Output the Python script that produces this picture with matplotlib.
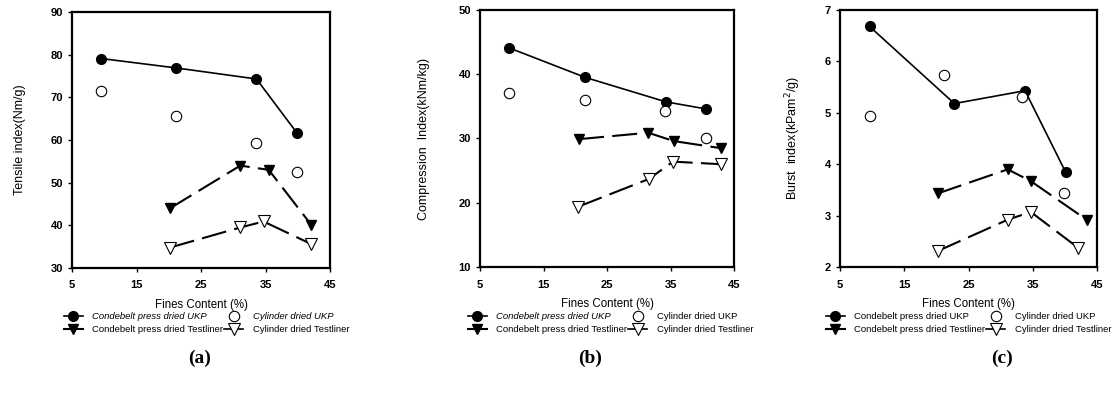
import matplotlib
matplotlib.use("Agg")
import matplotlib.pyplot as plt
from matplotlib.lines import Line2D

plt.rcParams['font.family'] = ['Liberation Sans', 'DejaVu Sans']

# fines content (%) per series and panel
x_cb_ukp = [[9.5, 21.1, 33.6, 39.9], [9.6, 21.6, 34.3, 40.6], [9.6, 22.8, 33.8, 40.1]]
x_cy_ukp = [[9.5, 21.1, 33.6, 39.9], [9.6, 21.6, 34.2, 40.6], [9.6, 21.2, 33.4, 39.9]]
x_cb_tl = [[20.2, 31.1, 35.5, 42.1], [20.6, 31.5, 35.5, 42.9], [20.2, 31.1, 34.7, 43.5]]
x_cy_tl = [[20.2, 31.1, 34.7, 42.1], [20.5, 31.6, 35.4, 42.9], [20.2, 31.1, 34.7, 42.1]]

# (a) tensile index
tensile_cb_ukp = [79.1, 76.9, 74.3, 61.6]
tensile_cy_ukp = [71.5, 65.7, 59.2, 52.6]
tensile_cb_tl = [44.0, 54.0, 53.0, 40.1]
tensile_cy_tl = [34.8, 39.5, 40.9, 35.6]

# (b) compression index
comp_cb_ukp = [44.1, 39.5, 35.7, 34.6]
comp_cy_ukp = [37.1, 36.0, 34.3, 30.1]
comp_cb_tl = [29.9, 30.9, 29.6, 28.5]
comp_cy_tl = [19.4, 23.7, 26.4, 26.0]

# (c) burst index
burst_cb_ukp = [6.68, 5.18, 5.43, 3.85]
burst_cy_ukp = [4.94, 5.74, 5.30, 3.43]
burst_cb_tl = [3.43, 3.90, 3.67, 2.91]
burst_cy_tl = [2.31, 2.92, 3.07, 2.37]

y_labels = ['Tensile index(Nm/g)', 'Compression  Index(kNm/kg)', 'Burst  index(kPam$^2$/g)']
y_ranges = [(30, 90, 10), (10, 50, 10), (2, 7, 1)]
panel_names = ['(a)', '(b)', '(c)']
# order so the 2-column legend reads row by row
legend_names = ['Condebelt press dried UKP', 'Condebelt press dried Testliner',
                'Cylinder dried UKP', 'Cylinder dried Testliner']

data = [
    (tensile_cb_ukp, tensile_cy_ukp, tensile_cb_tl, tensile_cy_tl),
    (comp_cb_ukp, comp_cy_ukp, comp_cb_tl, comp_cy_tl),
    (burst_cb_ukp, burst_cy_ukp, burst_cb_tl, burst_cy_tl),
]

W, H = 1116, 396
# axes boxes in pixels: left, top, right, bottom
boxes = [(72, 12, 330, 268), (480, 10, 734, 267), (840, 10, 1097, 267)]
ylabel_x = [-0.178, -0.197, -0.144]
legend_left = [64, 468, 826]
panel_x = [200, 590, 1002]

fig = plt.figure(figsize=(W / 100, H / 100), dpi=100)

for i in range(3):
    l, t, r, b = boxes[i]
    ax = fig.add_axes([l / W, 1 - b / H, (r - l) / W, (b - t) / H])
    cb_ukp, cy_ukp, cb_tl, cy_tl = data[i]

    ax.plot(x_cb_ukp[i], cb_ukp, color='black', lw=1.2, marker='o', ms=7)
    ax.plot(x_cy_ukp[i], cy_ukp, ls='none', marker='o', ms=7.5,
            mfc='white', mec='black', mew=0.8)
    ax.plot(x_cb_tl[i], cb_tl, color='black', lw=1.5, dashes=(12, 4),
            marker='v', ms=7.5)
    ax.plot(x_cy_tl[i], cy_tl, color='black', lw=1.5, dashes=(12, 4),
            marker='v', ms=8, mfc='white', mec='black', mew=0.8)

    y0, y1, step = y_ranges[i]
    ax.set_xlim(5, 45)
    ax.set_ylim(y0, y1)
    ax.set_xticks(range(5, 46, 10))
    ax.set_yticks(range(y0, y1 + 1, step))
    for s in ax.spines.values():
        s.set_linewidth(1.6)
    ax.tick_params(direction='out', length=3, width=1, labelsize=8)
    ax.tick_params(axis='x', pad=6)
    for lab in ax.get_xticklabels() + ax.get_yticklabels():
        lab.set_fontweight('bold')

    ax.set_xlabel('Fines Content (%)', fontsize=8.3, labelpad=6)
    ax.set_ylabel(y_labels[i], fontsize=9)
    ax.yaxis.set_label_coords(ylabel_x[i], 0.5)

    h_cb_ukp = Line2D([], [], color='black', lw=1.2, marker='o', ms=7)
    h_cy_ukp = Line2D([], [], ls='none', marker='o', ms=7.5, mfc='white', mec='black', mew=0.8)
    h_cb_tl = Line2D([], [], color='black', lw=1.5, marker='v', ms=7.5)
    h_cy_tl = Line2D([], [], color='black', lw=1.2, marker='v', ms=8,
                     mfc='white', mec='black', mew=0.8)
    leg = ax.legend([h_cb_ukp, h_cb_tl, h_cy_ukp, h_cy_tl], legend_names, ncol=2,
                    frameon=False, fontsize=6.8,
                    loc='upper left', bbox_to_anchor=(legend_left[i] / W, 1 - 312 / H),
                    bbox_transform=fig.transFigure, borderaxespad=0, borderpad=0,
                    handlelength=2.0, handletextpad=1.0, columnspacing=0.1,
                    labelspacing=0.45)
    texts = leg.get_texts()
    if i == 0:
        texts[0].set_style('italic')
        texts[2].set_style('italic')
    elif i == 1:
        texts[0].set_style('italic')

    fig.text(panel_x[i] / W, 1 - 358 / H, panel_names[i], ha='center', va='center',
             fontsize=14, fontweight='bold', family='Liberation Serif')

fig.savefig('out.png', dpi=100)
